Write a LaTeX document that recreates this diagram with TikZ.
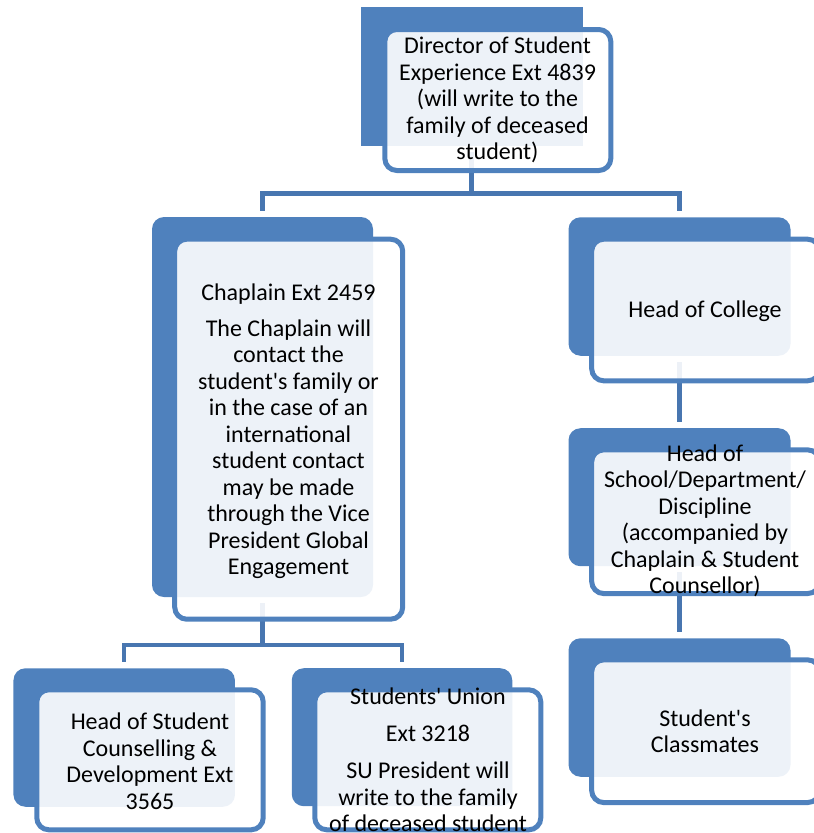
\documentclass[tikz,border=0pt]{standalone}
\usepackage{fontspec}
\setmainfont{Carlito}[Ligatures=TeXOff]
\definecolor{boxblue}{HTML}{4F81BD}
\definecolor{lineblue}{HTML}{4876B0}
\begin{document}
\begin{tikzpicture}[x=1pt,y=-1pt,
  backsq/.style={fill=boxblue, draw=none, inner sep=0pt},
  backbox/.style={backsq, rounded corners=12pt},
  frontbox/.style={draw=boxblue, line width=5pt, fill=white, fill opacity=0.9, rounded corners=12pt, inner sep=0pt},
  conn/.style={draw=lineblue, line width=4.5pt},
  lbl/.style={align=center, inner sep=0pt, text=black, font=\fontsize{24}{26.5}\selectfont}]
\useasboundingbox (0,0) rectangle (814,833);
\clip (0,0) rectangle (814,833);
% back boxes
\node[backsq, minimum width=222pt, minimum height=139pt] (dirB) at (471.5,76.5) {};
\node[backbox, minimum width=221pt, minimum height=380pt] (chapB) at (262.5,407) {};
\node[backbox, minimum width=222pt, minimum height=138.5pt] (hocB) at (679.5,286.5) {};
\node[backbox, minimum width=222pt, minimum height=138pt] (hosB) at (679.5,497.2) {};
\node[backbox, minimum width=222pt, minimum height=138.5pt] (clsB) at (679.5,707.5) {};
\node[backbox, minimum width=221.5pt, minimum height=138.5pt] (hscB) at (124.2,737.5) {};
\node[backbox, minimum width=220.5pt, minimum height=138pt] (suB) at (402,737.2) {};
% connectors
\coordinate (bus1) at (471.5,193.3);
\coordinate (bus2) at (262.5,645);
\draw[conn] ([yshift=-6pt]dirB.south) -- (bus1);
\draw[conn] (bus1) -| ([yshift=6pt]chapB.north);
\draw[conn] (bus1) -| ([yshift=6pt]hocB.north);
\draw[conn] ([yshift=-6pt]chapB.south) -- (bus2);
\draw[conn] (bus2) -| ([yshift=6pt]hscB.north);
\draw[conn] (bus2) -| ([yshift=6pt]suB.north);
\draw[conn] ([yshift=-6pt]hocB.south) -- ([yshift=6pt]hosB.north);
\draw[conn] ([yshift=-6pt]hosB.south) -- ([yshift=6pt]clsB.north);
% front boxes
\node[frontbox, minimum width=226pt, minimum height=141pt] (dirF) at (497.8,100) {};
\node[frontbox, minimum width=228pt, minimum height=380pt] (chapF) at (288.7,429.2) {};
\node[frontbox, minimum width=228pt, minimum height=141.6pt] (hocF) at (705.7,310) {};
\node[frontbox, minimum width=228pt, minimum height=143.7pt] (hosF) at (705.7,521.7) {};
\node[frontbox, minimum width=228pt, minimum height=142.7pt] (clsF) at (705.7,731.2) {};
\node[frontbox, minimum width=226.4pt, minimum height=140pt] (hscF) at (150,759.8) {};
\node[frontbox, minimum width=226pt, minimum height=140pt] (suF) at (427.8,759.8) {};
% texts
\node[lbl] (dirT) at (497.5,100) {Director of Student\\Experience Ext 4839\\(will write to the\\family of deceased\\student)};
\node[lbl] (chapT) at (288.5,431) {Chaplain Ext 2459\\[9.5pt]The Chaplain will\\contact the\\student's family or\\in the case of an\\international\\student contact\\may be made\\through the Vice\\President Global\\Engagement};
\node[lbl] (hocT) at (705,311) {Head of College};
\node[lbl] (hosT) at (705,521) {Head of\\School/Department/\\Discipline\\(accompanied by\\Chaplain \& Student\\Counsellor)};
\node[lbl] (clsT) at (705,731) {Student's\\Classmates};
\node[lbl] (hscT) at (150,761) {Head of Student\\Counselling \&\\Development Ext\\3565};
\node[lbl] (suT) at (428,760) {Students' Union\\[10.5pt]Ext 3218\\[10.5pt]SU President will\\write to the family\\of deceased student};
\end{tikzpicture}
\end{document}
